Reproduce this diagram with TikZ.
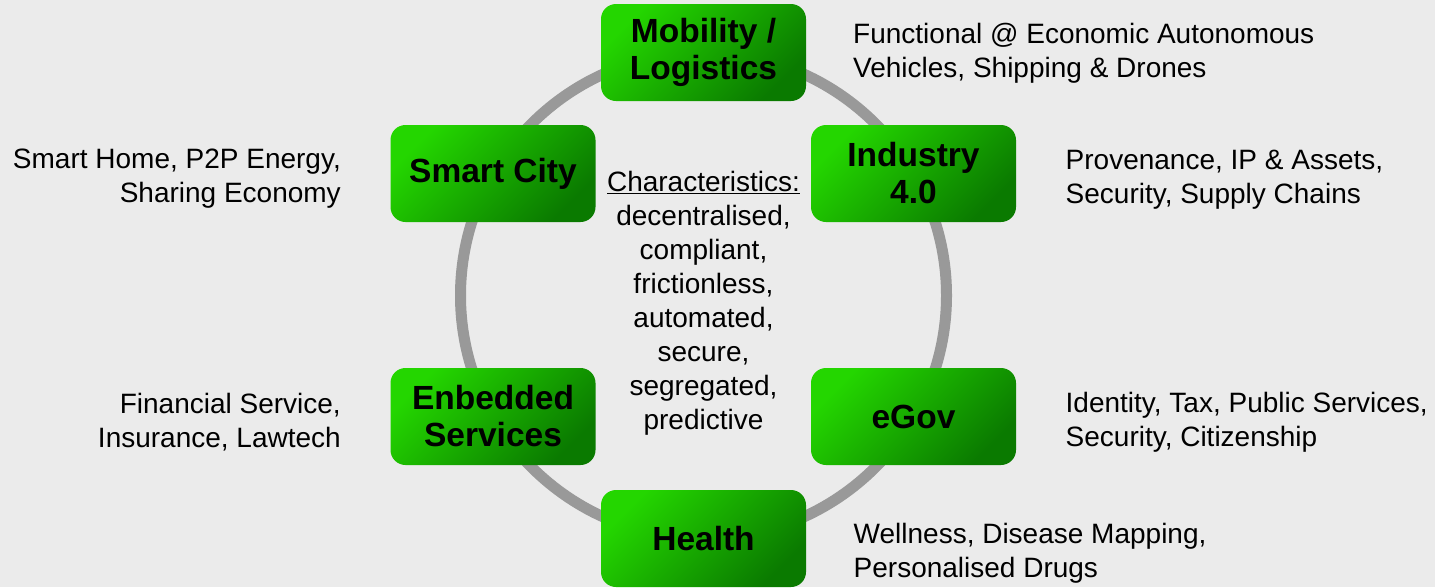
\documentclass[tikz,border=0pt]{standalone}
\usepackage{fontspec}
\setmainfont{Liberation Sans}
\definecolor{bgGray}{RGB}{235,235,235}
\definecolor{ringGray}{RGB}{153,153,153}
\definecolor{grnLight}{RGB}{36,214,0}
\definecolor{grnDark}{RGB}{10,122,0}
\begin{document}
\begin{tikzpicture}[x=1pt,y=-1pt,every node/.style={inner sep=0pt},
		area/.style={rectangle,rounded corners=15pt,minimum width=205pt,minimum height=97pt,
			top color=grnLight,bottom color=grnDark,shading angle=45,align=center,
			font=\fontsize{33.5}{37}\selectfont\bfseries},
		usecase/.style={font=\fontsize{28}{34}\selectfont},
		ring/.style={draw=ringGray,line width=11pt}]
				\fill[bgGray] (0,0) rectangle (1435,587);
				\coordinate (hub) at (703.5,295.5);
				\draw[ring] (hub) circle[radius=243pt];
				% sectors
				\node[area] (mobility) at (703.5,52.5)
					{Mobility /\\Logistics};
				\node[area] (industry) at (913.5,173.5)
					{Industry\\4.0};
				\node[area] (egov) at (913.5,416.5)
					{eGov};
				\node[area] (health) at (703.5,538.5)
					{Health};
				\node[area] (embedded) at (493,416.5)
					{Enbedded\\Services};
				\node[area] (smartcity) at (493,173.5)
					{Smart City};
				% characteristics
				\node[usecase,align=center] (traits) at (703.5,303)
					{\underline{Characteristics:}\\decentralised,\\compliant,\\frictionless,\\automated,\\secure,\\segregated,\\predictive};
				% use cases
				\node[usecase,align=left,anchor=west] (mobilitytxt) at (853,53)
					{Functional @ Economic Autonomous\\Vehicles, Shipping \& Drones};
				\node[usecase,align=left,anchor=west] (industrytxt) at (1065.5,179.5)
					{Provenance, IP \& Assets,\\Security, Supply Chains};
				\node[usecase,align=left,anchor=west] (egovtxt) at (1065.5,422.5)
					{Identity, Tax, Public Services,\\Security, Citizenship};
				\node[usecase,align=left,anchor=west] (healthtxt) at (853.5,553.5)
					{Wellness, Disease Mapping,\\Personalised Drugs};
				\node[usecase,align=right,anchor=east] (embeddedtxt) at (341,422.5)
					{Financial Service,\\Insurance, Lawtech};
				\node[usecase,align=right,anchor=east] (smartcitytxt) at (341,179)
					{Smart Home, P2P Energy,\\Sharing Economy};
			\end{tikzpicture}
\end{document}
